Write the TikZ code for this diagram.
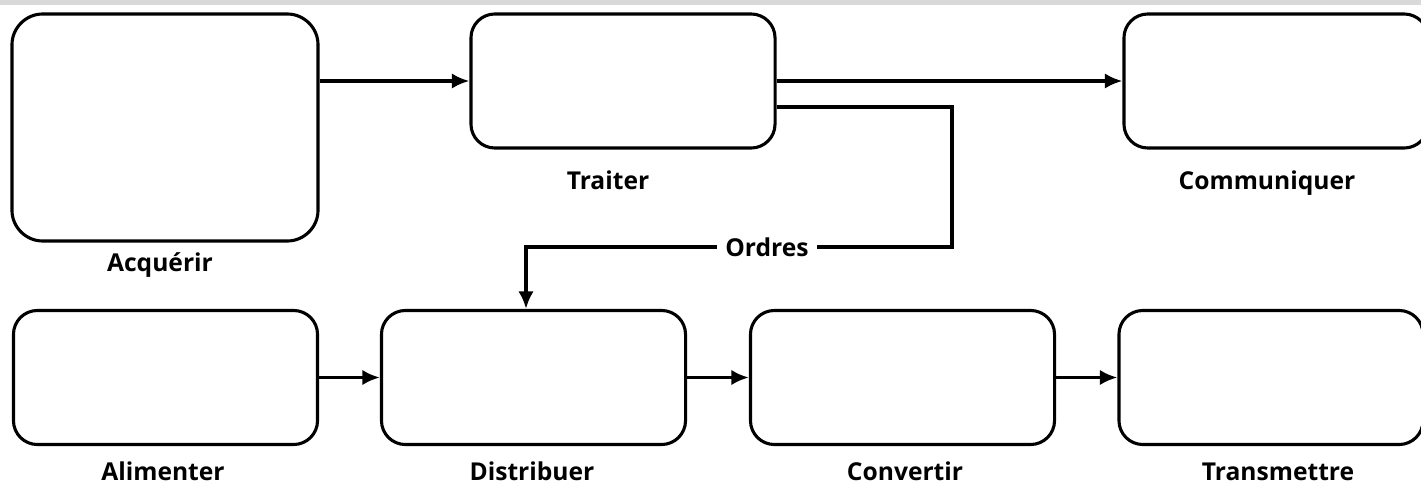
\documentclass[tikz,border=0pt]{standalone}
\usepackage{fontspec}
\setmainfont{Open Sans}
\usetikzlibrary{positioning,arrows.meta,calc}
\definecolor{cband}{HTML}{D9D9D9}

\begin{document}
\begin{tikzpicture}[x=0.025cm,y=-0.025cm,>={Latex[length=12.5pt,width=11pt]},
  fn/.style={draw,line width=2.2pt,rounded corners=17pt,minimum width=7.6cm,
             minimum height=3.35cm,inner sep=0pt},
  lbl/.style={font=\bfseries\fontsize{17.5}{20}\selectfont,inner sep=0pt,anchor=base},
  flow/.style={->,line width=2.6pt}]
\useasboundingbox (0,0) rectangle (1421,486);
\clip (0,0) rectangle (1421,486);
\fill[cband] (0,0) rectangle (1421,5);
% top row
\node[fn,minimum width=7.65cm,minimum height=5.675cm,rounded corners=22pt] (acq) at (165,127.5) {};
\node[fn] (trait) at (623,81) {};
\node[fn] (comm) at (1276,81) {};
% bottom row
\node[fn] (alim) at (165.5,377.5) {};
\node[fn] (distr) at (533.5,377.5) {};
\node[fn] (conv) at (902.5,377.5) {};
\node[fn] (trans) at (1271,377.5) {};
% labels
\node[lbl] (acqT) at (160,271) {Acquérir};
\node[lbl] (traitT) at (608,189) {Traiter};
\node[lbl] (commT) at (1267,189) {Communiquer};
\node[lbl] (alimT) at (163,480) {Alimenter};
\node[lbl] (distrT) at (532,480) {Distribuer};
\node[lbl] (convT) at (905,480) {Convertir};
\node[lbl] (transT) at (1278,480) {Transmettre};
% flows
\draw[flow] (acq.east|-trait) -- (trait);
\draw[flow] (trait) -- (comm);
\draw[flow] (alim) -- (distr);
\draw[flow] (distr) -- (conv);
\draw[flow] (conv) -- (trans);
\coordinate (turn) at (952,247);
\draw[flow] ([yshift=-26*0.025cm]trait.east) -| (turn) -- (526,247)
  -- ([xshift=-7.5*0.025cm]distr.north);
\node[lbl,anchor=center,fill=white,inner xsep=6pt,inner ysep=3pt] (ordres) at (767,247) {Ordres};
\end{tikzpicture}
\end{document}
